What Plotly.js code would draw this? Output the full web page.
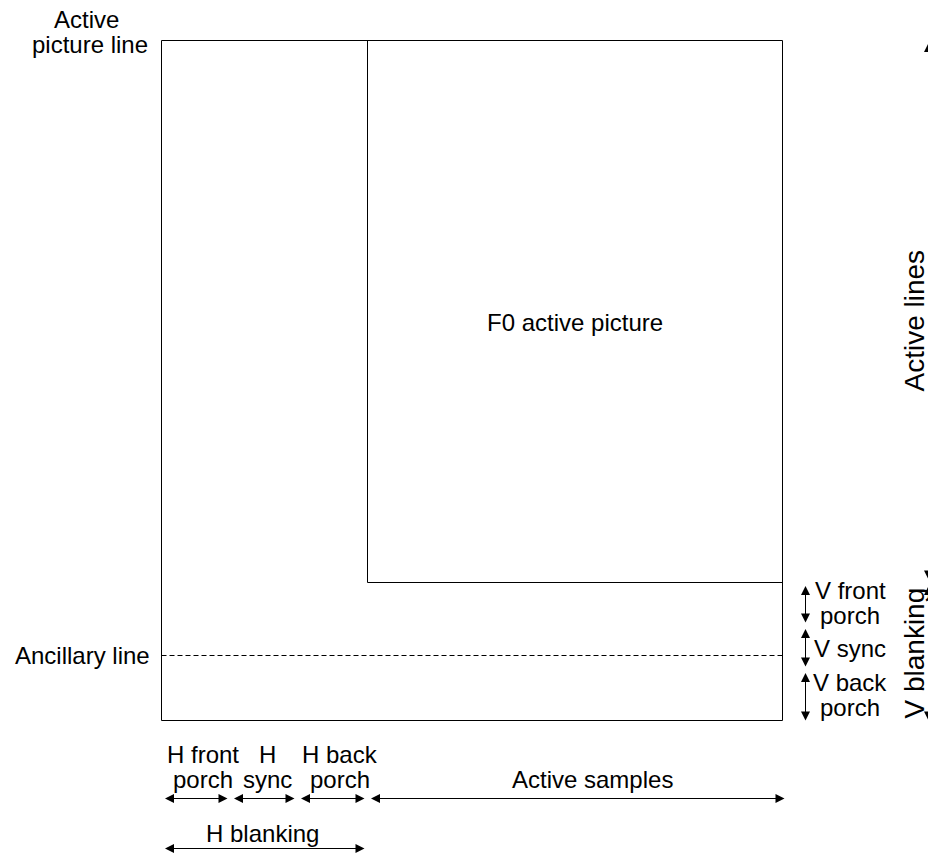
<!DOCTYPE html>
<html>
<head>
<meta charset="utf-8">
<script src="https://cdn.plot.ly/plotly-3.0.1.min.js"></script>
<style>
  html, body { margin: 0; padding: 0; background: #fff; overflow: hidden; }
  #chart { width: 940px; height: 854px; }
</style>
</head>
<body>
<div id="chart"></div>
<script>
// ---- diagram values (pixel-like units of the timing diagram) ----
const hLabels = [["H front", "porch"], ["H", "sync"], ["H back", "porch"], ["Active samples"]];
const hWidths = [69, 67, 70, 415];          // H front porch, H sync, H back porch, active samples
const vLabels = [["Active lines"], ["V front", "porch"], ["V sync"], ["V back", "porch"]];
const vHeights = [542, 43, 44, 51];         // active lines, V front porch, V sync, V back porch
const blankingLabels = ["H blanking", "V blanking"];
const pictureLabel = "F0 active picture";
const lineLabels = [["Active", "picture line"], ["Ancillary line"]];
const ancillaryRow = 615;                   // ancillary line, rows from the top of the frame

(function () {
// ---- layout ----
const X0 = 161.5, Y0 = 40.5;
const cum = a => a.reduce((acc, v) => { acc.push(acc[acc.length - 1] + v); return acc; }, [0]);
const hB = cum(hWidths).map(v => X0 + v);
const vB = cum(vHeights).map(v => Y0 + v);
const xL = hB[0], xR = hB[4], yT = vB[0], yB = vB[4];
const innerLeft = hB[3], innerBottom = vB[1];
const ancY = Y0 + ancillaryRow;

const black = '#000';
const traces = [
  { x: [xL, xR, xR, xL, xL], y: [yT, yT, yB, yB, yT] },
  { x: [innerLeft, innerLeft, xR], y: [yT, innerBottom, innerBottom] },
  { x: [xL, xR], y: [ancY, ancY], dash: '5px,3px' }
].map(t => ({
  type: 'scatter', mode: 'lines', x: t.x, y: t.y,
  line: { color: black, width: 1, dash: t.dash || 'solid' },
  hoverinfo: 'skip', showlegend: false
}));

const FAMILY = '"Liberation Sans", Arial, Helvetica, sans-serif';
const FONT = { family: FAMILY, size: 24, color: black };
const FONT_ROT = { family: FAMILY, size: 28, color: black };
const LINE_GAP = 25;
const annotations = [];
function text1(text, x, y, opts) {
  annotations.push(Object.assign({
    text: text, x: x, y: y, xref: 'x', yref: 'y', showarrow: false,
    xanchor: 'center', yanchor: 'middle', font: FONT
  }, opts || {}));
}
// y is the middle of the first line
function label(lines, x, y, opts) {
  lines.forEach((s, k) => text1(s, Array.isArray(x) ? x[k] : x, y + k * LINE_GAP, opts));
}
function arrow(x1, y1, x2, y2) {
  annotations.push({
    text: '', x: x2, y: y2, ax: x1, ay: y1,
    xref: 'x', yref: 'y', axref: 'x', ayref: 'y',
    showarrow: true, arrowside: 'end+start',
    arrowhead: 2, startarrowhead: 2, arrowsize: 1.8, startarrowsize: 1.8,
    arrowwidth: 1, arrowcolor: black, standoff: 0, startstandoff: 0
  });
}

// H arrows
const hRowY = 798.5;
const inset = 3;
for (let i = 0; i < 3; i++) arrow(hB[i] + inset - 1, hRowY, hB[i + 1] - inset, hRowY);
arrow(hB[3] + inset - 1, hRowY, hB[4] + 2, hRowY);
const hLabelX = [203, 267.5, 340, 592.5];
hLabels.forEach((lines, i) => {
  if (lines.length === 2) label(lines, hLabelX[i], hRowY - 44);
  else label(lines, hLabelX[i], hRowY - 19);
});
// H blanking
const hBlankY = 848.5;
arrow(hB[0] + inset - 1, hBlankY, hB[3] - inset, hBlankY);
label([blankingLabels[0]], 262, hBlankY - 15);

// V arrows
const vColX = 805.5;
for (let i = 1; i < 4; i++) arrow(vColX, vB[i] + inset - 1, vColX, vB[i + 1] - (i === 3 ? 0 : inset));
const vLabelX = 850;
label(vLabels[1], vLabelX, 590.5);
label(vLabels[2], vLabelX, 648.5);
label(vLabels[3], vLabelX, 682);

// right side arrows (partly cut by the page edge)
const rColX = 928.5;
arrow(rColX, vB[0] + 1, rColX, vB[1] - inset);
arrow(rColX, vB[1] + inset - 1, rColX, vB[4]);
label(vLabels[0], 913.5, 321, { textangle: -90, font: FONT_ROT });
label([blankingLabels[1]], 913.5, 653, { textangle: -90, font: FONT_ROT });

// picture / line labels
label([pictureLabel], 575, 322.5);
label(lineLabels[0], [86, 90], 19);
label(lineLabels[1], 152, ancY, { xanchor: 'right' });

const layout = {
  width: 940, height: 854,
  margin: { l: 0, r: 0, t: 0, b: 0, pad: 0 },
  paper_bgcolor: '#fff', plot_bgcolor: '#fff',
  xaxis: { range: [0, 940], visible: false, fixedrange: true },
  yaxis: { range: [854, 0], visible: false, fixedrange: true },
  showlegend: false,
  annotations: annotations
};
Plotly.newPlot('chart', traces, layout, { staticPlot: true, displayModeBar: false });
})();
</script>
</body>
</html>
